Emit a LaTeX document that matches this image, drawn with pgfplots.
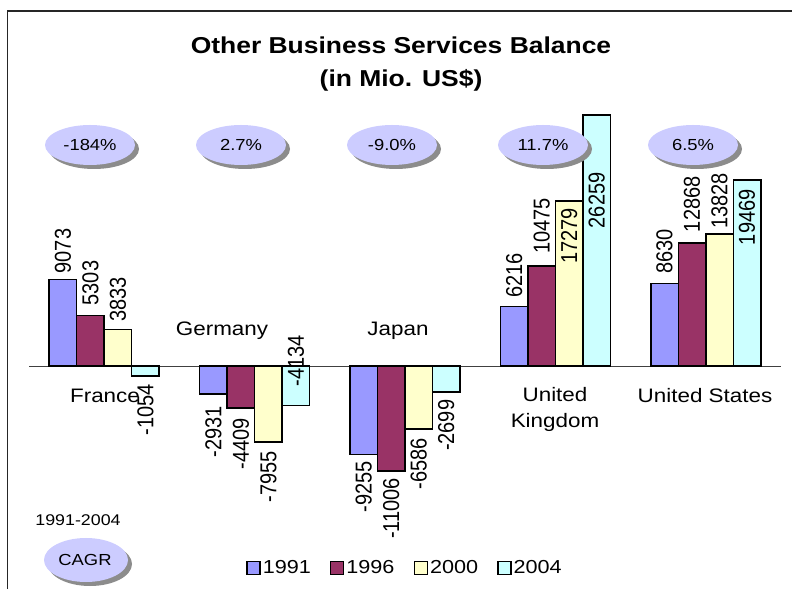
\documentclass[border=0pt]{standalone}
\usepackage{pgfplots}
\usepackage{pgfplotstable}
\pgfplotsset{compat=1.18}
\usepackage{graphicx}
\usepackage{fontspec}
\setmainfont{Liberation Sans}[FakeStretch=1.15]
\newfontfamily\labfont{Liberation Sans}
\definecolor{cA}{HTML}{9999FF}
\definecolor{cB}{HTML}{993366}
\definecolor{cC}{HTML}{FFFFCC}
\definecolor{cD}{HTML}{CCFFFF}
\definecolor{ell}{HTML}{CCCCFF}
\definecolor{shad}{HTML}{8C8C8C}
% x = country index, y = value, lab = mode/offset (0: label starts off pt above bar end, 1: label ends off pt below bar end)
\pgfplotstableread{
x y lab
0 9073 0/6
1 -2931 1/12
2 -9255 1/7
3 6216 0/9
4 8630 0/10
}\tA
\pgfplotstableread{
x y lab
0 5303 0/10
1 -4409 1/10
2 -11006 1/7
3 10475 0/12
4 12868 0/11
}\tB
\pgfplotstableread{
x y lab
0 3833 0/8
1 -7955 1/9
2 -6586 1/9
3 17279 0/-63
4 13828 0/5
}\tC
\pgfplotstableread{
x y lab
0 -1054 1/8
1 -4134 0/19
2 -2699 1/8
3 26259 0/-113
4 19469 0/-65
}\tD
\newcommand\prnum{\pgfmathfloatparsenumber{\rawy}\pgfmathfloattoint{\pgfmathresult}\pgfmathresult}
\newcommand\lab{{\labfont\fontsize{20}{24}\selectfont\scalebox{1}[1.15]{\prnum}}}
\def\barlab#1/#2\relax{\ifnum#1=1 \llap{\lab\hspace{#2pt}}\else\rlap{\hspace{#2pt}\lab}\fi}
\newcommand\cagr[3]{%
  \fill[shad] (#1+4pt,#2-4pt) ellipse [x radius=45pt, y radius=20pt];
  \fill[ell] (#1,#2) ellipse [x radius=45pt, y radius=20pt];
  \node[font=\fontsize{16}{19}\selectfont] at (#1,#2) {#3};}
\begin{document}
\begin{tikzpicture}
\useasboundingbox (0pt,0pt) rectangle (792pt,589pt);
\draw[line width=1.5pt, black!85] (7.5pt,0pt) -- (7.5pt,578pt) -- (792pt,578pt);
\begin{axis}[
  at={(29pt,32pt)}, anchor=south west,
  scale only axis, width=752pt, height=458.4pt,
  xmin=-0.5, xmax=4.5, ymin=-20000, ymax=28000,
  hide axis, clip=false,
  ybar=0pt, bar width=27.5pt,
  point meta=explicit symbolic,
  visualization depends on={rawy \as \rawy},
  nodes near coords={\expandafter\barlab\pgfplotspointmeta\relax},
  every node near coord/.append style={rotate=90, anchor=center, inner sep=0pt},
  every axis plot/.append style={draw=black, line width=1.5pt},
  legend columns=4,
  legend style={at={(0.5,-0.024)}, anchor=center, draw=none, fill=none,
    font=\fontsize{18.8}{22}\selectfont,
    /tikz/every even column/.append style={column sep=17pt},
    /tikz/every odd column/.append style={column sep=0pt}},
  legend image code/.code={\draw[#1, line width=1.5pt, draw=black] (0pt,-6.5pt) rectangle (13pt,6.5pt);},
]
\draw[line width=0.8pt, black!75] (axis cs:-0.5,0) -- (axis cs:4.5,0);
\addplot[fill=cA] table[x=x, y=y, meta=lab] {\tA};
\addplot[fill=cB] table[x=x, y=y, meta=lab] {\tB};
\addplot[fill=cC] table[x=x, y=y, meta=lab] {\tC};
\addplot[fill=cD] table[x=x, y=y, meta=lab] {\tD};
\legend{1991,1996,2000,2004}
\end{axis}
\node[font=\bfseries\fontsize{23}{33}\selectfont, align=center] at (401pt,525pt) {Other Business Services Balance\\(in Mio. US\$)};
\cagr{90pt}{444pt}{-184\%}
\cagr{241pt}{444pt}{2.7\%}
\cagr{392pt}{444pt}{-9.0\%}
\cagr{543pt}{444pt}{11.7\%}
\cagr{693pt}{444pt}{6.5\%}
\fill[shad] (90pt,25pt) ellipse [x radius=42pt, y radius=22pt];
\fill[ell] (86pt,29pt) ellipse [x radius=42pt, y radius=22pt];
\node[font=\fontsize{16}{19}\selectfont] at (85pt,29pt) {CAGR};
\node[font=\fontsize{15.5}{19}\selectfont] at (78pt,69pt) {1991-2004};
\begin{scope}[every node/.style={font=\fontsize{19.5}{26}\selectfont, align=center}]
\node at (105pt,193pt) {France};
\node at (222pt,258pt) {Germany};
\node at (398pt,258pt) {Japan};
\node at (555pt,180pt) {United\\Kingdom};
\node at (705pt,193pt) {United States};
\end{scope}
\end{tikzpicture}
\end{document}
